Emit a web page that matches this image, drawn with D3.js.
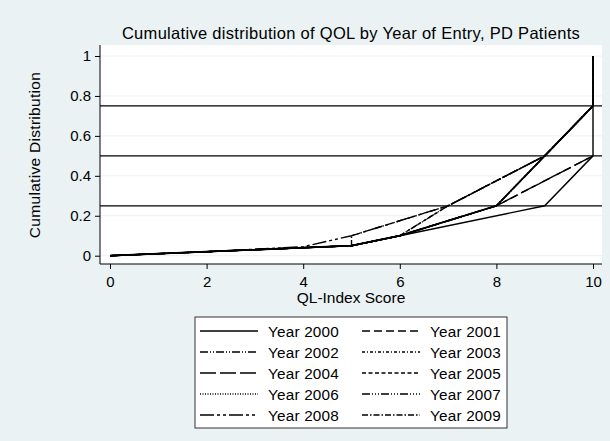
<!DOCTYPE html>
<html lang="en">
<head>
<meta charset="UTF-8">
<script src="https://d3js.org/d3.v7.min.js"></script>
<title>Cumulative distribution of QOL</title>
<style>
  body { margin: 0; background: #eaf2f3; }
  text { font-family: "Liberation Sans", Arial, sans-serif; fill: #000; }
</style>
</head>
<body>
<script>
// QL-Index scores and cumulative share per year of entry
const scoresA = [0, 2, 4, 5, 6, 9, 10, 10];
const cumA    = [0, 0.02, 0.04, 0.05, 0.1, 0.25, 0.5, 1];
const scoresB = [0, 2, 4, 5, 6, 8, 10];
const cumB    = [0, 0.02, 0.04, 0.05, 0.1, 0.25, 0.5];
const scoresC = [0, 2, 4, 5, 6, 8, 9, 10, 10];
const cumC    = [0, 0.02, 0.04, 0.05, 0.1, 0.25, 0.5, 0.75, 1];
const scoresD = [0, 2, 4, 5, 6, 7, 9, 10];
const cumD    = [0, 0.02, 0.04, 0.05, 0.1, 0.25, 0.5, 0.75];
const scoresE = [0, 2, 4, 5, 7, 9, 10];
const cumE    = [0, 0.02, 0.045, 0.1, 0.25, 0.5, 0.75];
const scoresF = [0, 2, 4, 5, 5, 7, 9, 10];
const cumF    = [0, 0.02, 0.04, 0.05, 0.1, 0.25, 0.5, 0.75];

const years = ["Year 2000", "Year 2001", "Year 2002", "Year 2003", "Year 2004",
               "Year 2005", "Year 2006", "Year 2007", "Year 2008", "Year 2009"];
const yearScores = [scoresA, scoresB, scoresC, scoresC, scoresB, scoresD, scoresC, scoresD, scoresE, scoresF];
const yearCum    = [cumA, cumB, cumC, cumC, cumB, cumD, cumC, cumD, cumE, cumF];
const dashes = ["", "8,4", "8,2,1,2,1,2", "3,2,1,2", "16,4", "4,2.5", "1,1.5",
                "8,2,1,2,1,2,1,2", "14,3,3,3,3,3", "6,2,1.5,2"];

const yTicks = [0, 0.2, 0.4, 0.6, 0.8, 1];
const xTicks = [0, 2, 4, 6, 8, 10];
const refLines = [0.25, 0.5, 0.75];

const W = 610, H = 441;
const svg = d3.select("body").append("svg").attr("width", W).attr("height", H);
svg.append("rect").attr("width", W).attr("height", H).attr("fill", "#eaf2f3");

const plot = { left: 100, right: 602, top: 45, bottom: 264 };
svg.append("rect")
  .attr("x", plot.left).attr("y", plot.top)
  .attr("width", plot.right - plot.left).attr("height", plot.bottom - plot.top)
  .attr("fill", "#fff");

const x = d3.scaleLinear().domain([0, 10]).range([110, 593]);
const y = d3.scaleLinear().domain([0, 1]).range([255.7, 56]);

// grid
svg.append("g").selectAll("line").data(yTicks).enter().append("line")
  .attr("x1", plot.left).attr("x2", plot.right)
  .attr("y1", d => y(d)).attr("y2", d => y(d))
  .attr("stroke", "#eaf2f3").attr("stroke-width", 1);

// reference lines
svg.append("g").selectAll("line").data(refLines).enter().append("line")
  .attr("x1", plot.left).attr("x2", plot.right)
  .attr("y1", d => y(d)).attr("y2", d => y(d))
  .attr("stroke", "#000").attr("stroke-width", 1.2);

// series (dashed first, solid on top)
const line = d3.line().x(d => x(d[0])).y(d => y(d[1]));
const order = d3.range(years.length).sort((a, b) => (dashes[a] === "") - (dashes[b] === ""));
order.forEach(i => {
  const pts = yearScores[i].map((s, j) => [s, yearCum[i][j]]);
  svg.append("path").attr("d", line(pts))
    .attr("fill", "none").attr("stroke", "#000").attr("stroke-width", 1.4)
    .attr("stroke-dasharray", dashes[i] || null);
});
// thick solid curve is the overlap of several years
svg.append("path").attr("d", line(scoresC.map((s, j) => [s, cumC[j]])))
  .attr("fill", "none").attr("stroke", "#000").attr("stroke-width", 1.8);

// axes
const yAxis = svg.append("g").attr("transform", `translate(${plot.left},0)`)
  .call(d3.axisLeft(y).tickValues(yTicks).tickSize(5).tickPadding(4).tickFormat(d3.format("~g")));
yAxis.select(".domain").attr("d", `M0,${plot.top}V${plot.bottom}`).attr("stroke", "#000");
yAxis.selectAll("text").style("font-size", "15px");

const xAxis = svg.append("g").attr("transform", `translate(0,${plot.bottom})`)
  .call(d3.axisBottom(x).tickValues(xTicks).tickSize(5).tickPadding(7).tickFormat(d3.format("d")));
xAxis.select(".domain").attr("d", `M${plot.left},0H${plot.right}`).attr("stroke", "#000");
xAxis.selectAll("text").style("font-size", "15px");

svg.append("text").attr("x", 351).attr("y", 39).attr("text-anchor", "middle")
  .style("font-size", "16.5px").style("letter-spacing", "0.3px")
  .text("Cumulative distribution of QOL by Year of Entry, PD Patients");
svg.append("text").attr("x", 351).attr("y", 303).attr("text-anchor", "middle")
  .style("font-size", "15.5px").text("QL-Index Score");
svg.append("text").attr("transform", "translate(40,155) rotate(-90)").attr("text-anchor", "middle")
  .style("font-size", "15.5px").style("letter-spacing", "0.3px").text("Cumulative Distribution");

// legend
const lg = svg.append("g");
lg.append("rect").attr("x", 195).attr("y", 317).attr("width", 312).attr("height", 111)
  .attr("fill", "#fff").attr("stroke", "#333").attr("stroke-width", 1);
years.forEach((yr, i) => {
  const col = i % 2, row = Math.floor(i / 2);
  const lx = col === 0 ? 200 : 362;
  const ly = 331 + row * 21;
  lg.append("line").attr("x1", lx).attr("x2", lx + 58).attr("y1", ly).attr("y2", ly)
    .attr("stroke", "#000").attr("stroke-width", 1.4)
    .attr("stroke-dasharray", dashes[i] || null);
  lg.append("text").attr("x", lx + 68).attr("y", ly + 5.5)
    .style("font-size", "15.3px").style("letter-spacing", "0.2px").text(yr);
});
</script>
</body>
</html>
